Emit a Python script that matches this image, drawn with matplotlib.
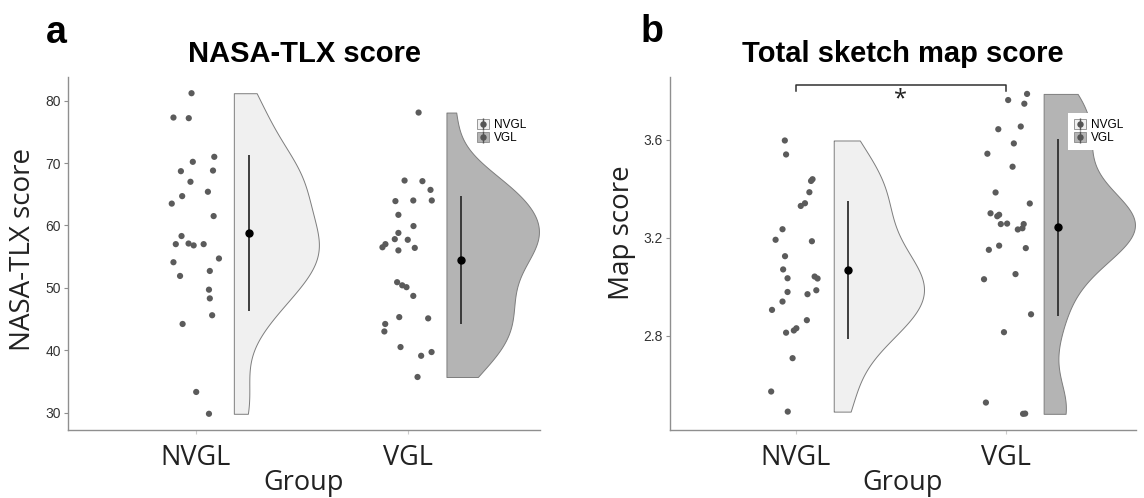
import numpy as np
import matplotlib
matplotlib.use("Agg")
import matplotlib.pyplot as plt
from matplotlib.patches import Patch
from matplotlib.lines import Line2D
from matplotlib.legend_handler import HandlerTuple

# ---------------- data ----------------
groups = ["NVGL", "VGL"]

# Panel a: NASA-TLX score
tlx_nvgl = [81.2, 77.3, 77.2, 71.0, 70.2, 68.7, 68.8, 67.0, 65.4, 64.7, 63.5, 61.5,
            58.3, 57.0, 57.1, 56.8, 57.0, 54.1, 54.7, 51.9, 52.7, 49.7, 48.3, 45.6,
            44.2, 33.3, 29.8]
tlx_nvgl_jit = [-0.019, -0.104, -0.032, 0.088, -0.013, -0.069, 0.082, -0.024, 0.058,
                -0.063, -0.112, 0.085, -0.066, -0.093, -0.033, -0.009, 0.038, -0.104,
                0.110, -0.073, 0.067, 0.063, 0.067, 0.078, -0.061, 0.003, 0.063]
tlx_vgl = [78.1, 67.2, 67.1, 65.7, 63.9, 64.0, 64.0, 61.7, 59.9, 58.8, 57.8, 57.7,
           57.0, 56.5, 56.0, 56.4, 50.9, 50.4, 50.1, 48.7, 45.3, 45.1, 44.2, 43.0,
           40.5, 39.1, 39.7, 35.7]
tlx_vgl_jit = [0.049, -0.017, 0.067, 0.105, -0.060, 0.024, 0.111, -0.046, 0.025,
               -0.046, -0.063, -0.002, -0.107, -0.121, -0.046, 0.031, -0.052, -0.028,
               -0.008, 0.024, -0.042, 0.094, -0.108, -0.112, -0.036, 0.061, 0.110, 0.044]
tlx_mean = [58.8, 54.45]
tlx_sd = [12.45, 10.3]

# Panel b: Total sketch map score
map_nvgl = [3.597, 3.540, 3.439, 3.432, 3.386, 3.341, 3.330, 3.235, 3.192, 3.186,
            3.125, 3.071, 3.035, 3.042, 3.034, 2.979, 2.940, 2.970, 2.986, 2.906,
            2.864, 2.813, 2.822, 2.831, 2.709, 2.573, 2.491]
map_nvgl_jit = [-0.053, -0.047, 0.079, 0.072, 0.064, 0.043, 0.023, -0.064, -0.097,
                0.076, -0.052, -0.061, -0.040, 0.089, 0.103, -0.040, -0.064, 0.055,
                0.097, -0.114, 0.052, -0.047, -0.010, 0.002, -0.016, -0.118, -0.039]
map_vgl = [3.787, 3.762, 3.747, 3.643, 3.654, 3.585, 3.543, 3.490, 3.385, 3.340,
           3.300, 3.288, 3.294, 3.256, 3.258, 3.256, 3.239, 3.234, 3.151, 3.168,
           3.158, 3.031, 3.052, 2.888, 2.815, 2.528, 2.482, 2.483]
map_vgl_jit = [0.101, 0.011, 0.088, -0.036, 0.071, 0.038, -0.088, 0.032, -0.049,
               0.114, -0.073, -0.041, -0.032, -0.024, 0.006, 0.085, 0.079, 0.057,
               -0.081, -0.032, 0.095, -0.104, 0.046, 0.120, -0.009, -0.095, 0.082, 0.092]
map_mean = [3.070, 3.2425]
map_sd = [0.282, 0.360]
sig_level = 3.824
sig_tip = 0.027
sig_label = "*"

# ---------------- style ----------------
FILLS = ["#f0f0f0", "#b4b4b4"]
PT_COL = "#5b5b5b"
AX_COL = "#8f8f8f"
LIGHT_FONT = ["Open Sans", "DejaVu Sans"]
plt.rcParams["font.family"] = ["Liberation Sans", "DejaVu Sans"]


def nrd0_factor(v):
    v = np.asarray(v, dtype=float)
    sd = v.std(ddof=1)
    q75, q25 = np.percentile(v, [75, 25])
    lo = min(sd, (q75 - q25) / 1.34)
    bw = 0.9 * lo * len(v) ** (-0.2)
    return bw / sd


fig = plt.figure(figsize=(11.44, 4.98), dpi=100)
W, H = 1144.0, 498.0


def px_axes(x0, y0, x1, y1):
    return fig.add_axes([x0 / W, 1 - y1 / H, (x1 - x0) / W, (y1 - y0) / H])


def panel(ax, data, jits, means, sds, vwidths, ylim, yticks, ylabel, ylab_xy,
          ylab_size, title, letter, letter_xy):
    for i, (vals, jit) in enumerate(zip(data, jits)):
        pos = i + 1
        vp = ax.violinplot([vals], positions=[pos + 0.18], widths=[2 * vwidths[i]],
                           showextrema=False, side="high", points=400,
                           bw_method=nrd0_factor(vals))
        for b in vp["bodies"]:
            b.set_facecolor(FILLS[i])
            b.set_edgecolor("#7d7d7d")
            b.set_alpha(1)
            b.set_linewidth(0.7)
            b.set_zorder(1)
        ax.scatter(pos + np.asarray(jit), vals, s=20, color=PT_COL,
                   edgecolors="none", zorder=2)
        ax.errorbar([pos + 0.25], [means[i]], yerr=[sds[i]], fmt="o", color="black",
                    ecolor="#303030", elinewidth=1.3, markersize=5, capsize=0,
                    zorder=3)
    ax.set_xlim(0.4, 2.62)
    ax.set_ylim(*ylim)
    ax.set_yticks(yticks)
    ax.set_xticks([1, 2])
    ax.set_xticklabels(groups, family=LIGHT_FONT, fontsize=19.5, color="#222222")
    for s in ["top", "right"]:
        ax.spines[s].set_visible(False)
    for s in ["left", "bottom"]:
        ax.spines[s].set_color(AX_COL)
        ax.spines[s].set_linewidth(1.0)
    ax.tick_params(axis="y", length=3, width=0.8, color=AX_COL, labelsize=10,
                   labelcolor="#333333", pad=2)
    ax.tick_params(axis="x", length=3, width=0.8, color="#cccccc", pad=7)
    ax.set_ylabel(ylabel, family=LIGHT_FONT, fontsize=ylab_size, color="#222222",
                  va="center")
    ax.yaxis.set_label_coords(*ylab_xy)
    ax.set_xlabel("Group", family=LIGHT_FONT, fontsize=19.5, color="#222222",
                  va="center")
    ax.xaxis.set_label_coords(0.5, -0.15)
    ax.text(0.5, 1.042, title, transform=ax.transAxes, ha="center", va="baseline",
            fontsize=21, fontweight="bold")
    fig.text(letter_xy[0] / W, 1 - letter_xy[1] / H, letter, fontsize=27,
             fontweight="bold", ha="left", va="baseline")
    handles = []
    for i in range(2):
        handles.append((Patch(facecolor=FILLS[i], edgecolor="#8a8a8a", linewidth=0.6),
                        Line2D([], [], ls="none", marker="|", ms=9, mew=1.0,
                               color="#555555"),
                        Line2D([], [], ls="none", marker="o", ms=3.6, color="#555555")))
    leg = ax.legend(handles, groups,
                    handler_map={tuple: HandlerTuple(ndivide=1, pad=0)},
                    loc="upper left", bbox_to_anchor=(0.855, 0.897), borderaxespad=0,
                    fontsize=8.5, handlelength=0.95, handleheight=0.95,
                    labelspacing=0.05, handletextpad=0.45, borderpad=0.5,
                    frameon=True, fancybox=False, framealpha=1, facecolor="white",
                    edgecolor="none")
    leg.set_zorder(5)


ax1 = px_axes(68, 77, 540, 430)
panel(ax1, [tlx_nvgl, tlx_vgl], [tlx_nvgl_jit, tlx_vgl_jit], tlx_mean, tlx_sd,
      [0.40, 0.435], (27.2, 83.8), [30, 40, 50, 60, 70, 80], "NASA-TLX score",
      (-0.095, 0.51), 20, "NASA-TLX score", "a", (46, 43))

ax2 = px_axes(670, 77, 1136, 430)
panel(ax2, [map_nvgl, map_vgl], [map_nvgl_jit, map_vgl_jit], map_mean, map_sd,
      [0.43, 0.435], (2.416, 3.856), [2.8, 3.2, 3.6], "Map score",
      (-0.103, 0.56), 20, "Total sketch map score", "b", (641, 42))
ax2.set_yticklabels(["2.8", "3.2", "3.6"])
ax2.plot([1, 1, 2, 2], [sig_level - sig_tip, sig_level, sig_level, sig_level - sig_tip],
         color="#303030", lw=1.1, zorder=4)
ax2.text(1.5, sig_level - 0.012, sig_label, ha="center", va="top", fontsize=17,
         family=LIGHT_FONT, color="#222222")

fig.savefig("out.png", dpi=100)
